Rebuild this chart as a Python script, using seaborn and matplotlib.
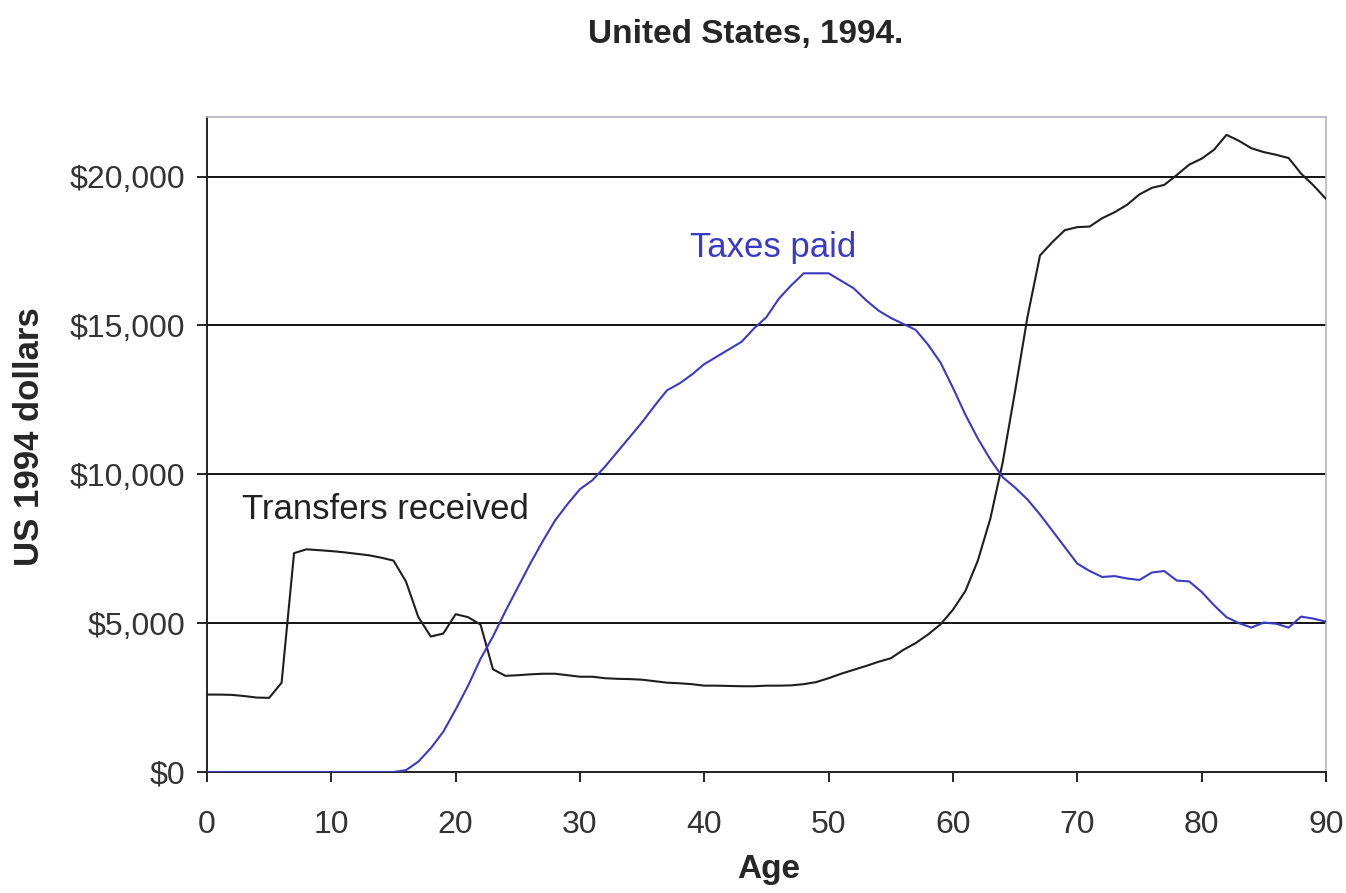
import numpy as np
import pandas as pd
import matplotlib
matplotlib.use("Agg")
import matplotlib.pyplot as plt
import seaborn as sns
from matplotlib.ticker import FuncFormatter

# Per-capita taxes paid and transfers received by age, US 1994 dollars
ages = list(range(0, 91))

taxes_paid = [
    0, 0, 0, 0, 0, 0, 0, 0, 0, 0,
    0, 0, 0, 0, 0, 0, 60, 350, 800, 1350,
    2100, 2900, 3800, 4550, 5400, 6200, 7000, 7750, 8450, 9000,
    9500, 9800, 10250, 10750, 11250, 11750, 12300, 12820, 13050, 13350,
    13700, 13950, 14200, 14450, 14900, 15280, 15900, 16350, 16750, 16750,
    16750, 16500, 16250, 15850, 15500, 15250, 15050, 14850, 14350, 13750,
    12900, 12000, 11200, 10500, 9900, 9550, 9150, 8650, 8100, 7550,
    7000, 6750, 6550, 6580, 6500, 6450, 6700, 6750, 6430, 6400,
    6050, 5600, 5200, 5000, 4850, 5020, 4980, 4850, 5220, 5150,
    5050,
]

transfers_received = [
    2600, 2600, 2590, 2550, 2500, 2490, 3000, 7350, 7480, 7450,
    7420, 7380, 7330, 7280, 7200, 7100, 6400, 5200, 4550, 4650,
    5300, 5200, 4950, 3450, 3230, 3250, 3280, 3300, 3300, 3250,
    3200, 3200, 3150, 3130, 3120, 3100, 3050, 3000, 2980, 2950,
    2900, 2900, 2890, 2880, 2880, 2900, 2900, 2910, 2950, 3020,
    3150, 3300, 3430, 3560, 3700, 3820, 4100, 4330, 4620, 4960,
    5450, 6080, 7100, 8500, 10400, 12800, 15300, 17350, 17800, 18200,
    18300, 18320, 18600, 18800, 19050, 19400, 19620, 19720, 20050, 20400,
    20600, 20900, 21400, 21200, 20950, 20820, 20730, 20620, 20100, 19700,
    19250,
]

x_ticks = [0, 10, 20, 30, 40, 50, 60, 70, 80, 90]
y_ticks = [0, 5000, 10000, 15000, 20000]

BLUE = "#3a3ac4"
DARK = "#1e1e1e"

df = pd.DataFrame({"Age": ages, "Taxes paid": taxes_paid,
                   "Transfers received": transfers_received})

sns.set_style("white")
plt.rcParams["font.family"] = ["Liberation Sans", "DejaVu Sans"]

fig = plt.figure(figsize=(13.46, 8.93), dpi=100)
ax = fig.add_axes([0.1538, 0.1355, 0.8313, 0.7335])

# horizontal gridlines
for v in y_ticks[1:]:
    ax.axhline(v, color="black", lw=1.3, zorder=1)

sns.lineplot(data=df, x="Age", y="Transfers received", ax=ax, color=DARK,
             lw=1.5, zorder=3)
sns.lineplot(data=df, x="Age", y="Taxes paid", ax=ax, color=BLUE,
             lw=1.5, zorder=3)

ax.set_xlim(0, 90)
ax.set_ylim(0, 22000)
ax.set_xticks(x_ticks)
ax.set_yticks(y_ticks)
ax.yaxis.set_major_formatter(FuncFormatter(lambda v, p: f"${v:,.0f}"))
ax.tick_params(axis="both", labelsize=23, length=7.5, width=1.2,
               direction="out", colors="black", labelcolor="#333333")
ax.tick_params(axis="x", pad=20)
ax.tick_params(axis="y", pad=8)
ax.xaxis.set_ticks_position("bottom")
ax.yaxis.set_ticks_position("left")

for side in ["left", "bottom"]:
    ax.spines[side].set_color("#222222")
    ax.spines[side].set_linewidth(1.4)
for side in ["top", "right"]:
    ax.spines[side].set_visible(True)
    ax.spines[side].set_color("#b4b4c4")
    ax.spines[side].set_linewidth(1.2)

ax.set_xlabel("")
ax.set_ylabel("")
fig.text(769 / 1346, 1 - 878 / 893, "Age", fontsize=24, fontweight="bold",
         ha="center", va="baseline")
fig.text(30 / 1346, 1 - 437 / 893, "US 1994 dollars", fontsize=25,
         fontweight="bold", rotation=90, ha="center", va="center")

ax.text(45.5, 17300, "Taxes paid", color=BLUE, fontsize=25, ha="center",
        va="baseline")
ax.text(2.8, 8500, "Transfers received", color="#222222", fontsize=25,
        ha="left", va="baseline")

fig.text(746 / 1346, 1 - 34 / 893, "United States, 1994.", fontsize=24,
         fontweight="bold", ha="center", va="center")

fig.savefig("out.png", dpi=100)
plt.close(fig)
